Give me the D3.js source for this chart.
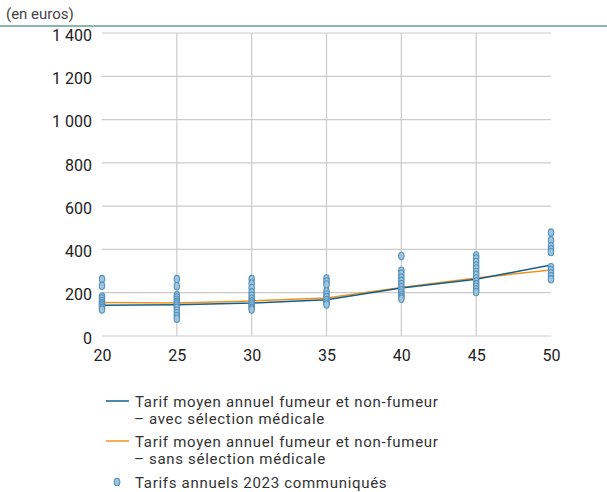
<!DOCTYPE html>
<html><head><meta charset="utf-8">
<script src="https://cdn.jsdelivr.net/npm/d3@7"></script>
<style>
body{margin:0;background:#fff;}
svg{display:block;font-family:Roboto,"Noto Sans",sans-serif;}
</style></head>
<body>
<svg id="chart" width="607" height="492"></svg>
<script>
const ages = [20, 25, 30, 35, 40, 45, 50];
const avgAvecSelection = [142, 144, 152, 168, 222, 262, 328];
const avgSansSelection = [155, 152, 162, 176, 224, 268, 305];
const tarifs20 = [263, 232, 182, 172, 162, 152, 145, 138, 130, 122];
const tarifs25 = [263, 230, 188, 178, 168, 158, 150, 140, 130, 118, 105, 92, 80];
const tarifs30 = [263, 242, 222, 202, 186, 172, 160, 150, 140, 130, 122];
const tarifs35 = [266, 252, 238, 206, 192, 180, 166, 155, 145];
const tarifs40 = [370, 302, 288, 270, 255, 240, 226, 212, 200, 190, 180, 172];
const tarifs45 = [372, 358, 342, 326, 312, 296, 282, 266, 252, 240, 228, 215, 203];
const tarifs50 = [478, 442, 415, 400, 388, 318, 304, 290, 276, 262];
const yTicks = [0, 200, 400, 600, 800, 1000, 1200, 1400];
const legendLabels = [
  ["Tarif moyen annuel fumeur et non-fumeur", "– avec sélection médicale"],
  ["Tarif moyen annuel fumeur et non-fumeur", "– sans sélection médicale"],
  ["Tarifs annuels 2023 communiqués"]
];
const unitLabel = "(en euros)";

const tarifsByAge = [tarifs20, tarifs25, tarifs30, tarifs35, tarifs40, tarifs45, tarifs50];
const points = [];
ages.forEach((a, i) => tarifsByAge[i].forEach(v => points.push({age: a, v})));

const svg = d3.select("#chart");
const x = d3.scaleLinear().domain([20, 50]).range([102, 551]);
const y = d3.scaleLinear().domain([0, 1400]).range([336, 33]);

const blue = "#145f8c", orange = "#ef9320", ptFill = "#9fc4de", ptStroke = "#5592bb";

// header
svg.append("text").attr("x", 6).attr("y", 19).attr("font-size", 15).attr("fill", "#444").text(unitLabel);
svg.append("line").attr("x1", 0).attr("x2", 607).attr("y1", 26).attr("y2", 26)
  .attr("stroke", "#86b9ab").attr("stroke-width", 2);

// horizontal grid + y labels
const yAxis = d3.axisLeft(y).tickValues(yTicks).tickSize(0)
  .tickFormat(d => d3.format(",")(d).replace(",", " "));
const gy = svg.append("g").attr("transform", "translate(92,0)").call(yAxis);
gy.select(".domain").remove();
gy.selectAll("text").attr("font-size", 16).attr("fill", "#222").attr("font-family", "Roboto").attr("dy", "0.45em").attr("x", 0);

svg.append("g").selectAll("line").data(yTicks).join("line")
  .attr("x1", x(20)).attr("x2", x(50)).attr("y1", d => y(d)).attr("y2", d => y(d))
  .attr("stroke", "#cbcbcb").attr("stroke-width", 1.2);

// vertical grid (inner)
svg.append("g").selectAll("line").data(ages.slice(1, -1)).join("line")
  .attr("x1", d => x(d)).attr("x2", d => x(d)).attr("y1", y(1400)).attr("y2", y(0))
  .attr("stroke", "#cbcbcb").attr("stroke-width", 1.2);

// x axis labels
const xAxis = d3.axisBottom(x).tickValues(ages).tickSize(0).tickFormat(d3.format("d"));
const gx = svg.append("g").attr("transform", `translate(0,${y(0)})`).call(xAxis);
gx.select(".domain").remove();
gx.selectAll("text").attr("font-size", 16).attr("fill", "#222").attr("font-family", "Roboto").attr("dy", "1.38em");

// lines
const line = d3.line().x((d, i) => x(ages[i])).y(d => y(d));
svg.append("path").datum(avgSansSelection).attr("d", line).attr("fill", "none").attr("stroke", orange).attr("stroke-width", 1.5);
svg.append("path").datum(avgAvecSelection).attr("d", line).attr("fill", "none").attr("stroke", blue).attr("stroke-width", 1.5);

// points
svg.append("g").selectAll("ellipse").data(points).join("ellipse")
  .attr("cx", d => x(d.age)).attr("cy", d => y(d.v)).attr("rx", 2.7).attr("ry", 3.7)
  .attr("fill", ptFill).attr("stroke", ptStroke).attr("stroke-width", 1.1);

// legend
const lg = svg.append("g").attr("font-size", 15).attr("letter-spacing", 0.7).attr("fill", "#333");
const lgY = [401, 441, 482];
[blue, orange].forEach((c, i) => {
  lg.append("line").attr("x1", 106).attr("x2", 129).attr("y1", lgY[i]).attr("y2", lgY[i])
    .attr("stroke", c).attr("stroke-width", 1.5);
});
lg.append("ellipse").attr("cx", 117).attr("cy", lgY[2]).attr("rx", 2.8).attr("ry", 3.8)
  .attr("fill", ptFill).attr("stroke", ptStroke).attr("stroke-width", 1.1);
legendLabels.forEach((lines, i) => {
  lines.forEach((s, j) => lg.append("text").attr("x", j ? 134 : 135)
    .attr("y", lgY[i] + 5.5 + j * 17.7).text(s));
});
</script>
</body></html>
